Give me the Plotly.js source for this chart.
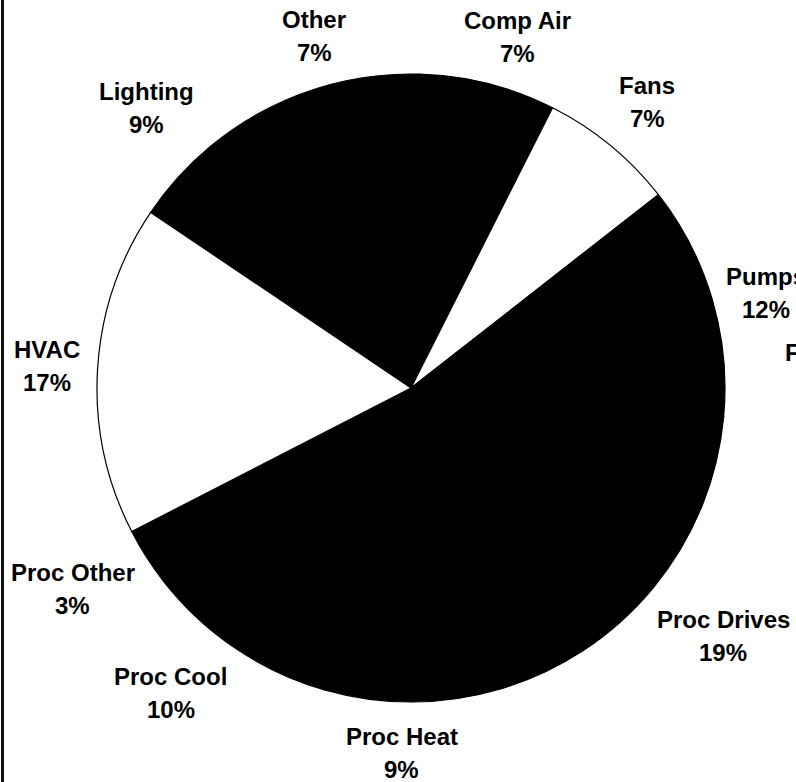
<!DOCTYPE html>
<html>
<head>
<meta charset="utf-8">
<script src="https://cdn.plot.ly/plotly-3.0.1.min.js"></script>
<style>
  html, body { margin: 0; padding: 0; background: #fff; }
  #chart { width: 796px; height: 782px; }
</style>
</head>
<body>
<div id="chart"></div>
<script>
// Energy end-use shares (%), clockwise starting from Lighting
const categories = ['Lighting', 'Other', 'Comp Air', 'Fans', 'Pumps',
                    'Proc Drives', 'Proc Heat', 'Proc Cool', 'Proc Other', 'HVAC'];
const shares = [9, 7, 7, 7, 12, 19, 9, 10, 3, 17];

// ---- layout / styling ----
const W = 796, H = 782;
const CX = 411, CY = 388, R = 314;      // pie centre and radius in pixels
const START_ANGLE = -56;                // first slice starts here (deg, clockwise from 12 o'clock)
const LABEL_RADIUS = 328;               // anchor circle for the data labels
const LINE_GAP = 33;                    // distance between the two label lines
const FONT_SIZE = 24;
const FONT_FAMILY = '"Liberation Sans", Arial, sans-serif';
const lightSlices = new Set(['Fans', 'HVAC']);
const colors = categories.map(c => lightSlices.has(c) ? '#ffffff' : '#000000');
const labelFont = { family: FONT_FAMILY, size: FONT_SIZE, weight: 'bold', color: '#000' };
// hand-placed label adjustments (px) where the automatic placement is crowded
const labelNudge = {
  'Lighting': [-7, 5], 'Other': [-22, 3], 'Proc Drives': [-8, 8],
  'Proc Heat': [-11, 4], 'HVAC': [-3, -3]
};

// text measurement for label placement
const ctx = document.createElement('canvas').getContext('2d');
ctx.font = 'bold ' + FONT_SIZE + 'px ' + FONT_FAMILY;
const clamp = (v, lo, hi) => Math.max(lo, Math.min(hi, v));

function textAt(text, px, py) {
  return {
    x: px / W, y: 1 - py / H, xref: 'paper', yref: 'paper',
    xanchor: 'center', yanchor: 'middle', showarrow: false,
    text: text, font: labelFont
  };
}

const total = shares.reduce((a, b) => a + b, 0);
let cum = 0;
const annotations = [];
categories.forEach((name, i) => {
  const mid = (START_ANGLE + (cum + shares[i] / 2) / total * 360) * Math.PI / 180;
  cum += shares[i];
  const pct = shares[i] + '%';
  const w = Math.max(ctx.measureText(name).width, ctx.measureText(pct).width);
  const h = 2 * LINE_GAP;
  const s = Math.sin(mid), c = Math.cos(mid);
  // anchor on a circle just outside the pie, label box pushed outward from it
  const ax = CX + LABEL_RADIUS * s, ay = CY - LABEL_RADIUS * c;
  const kx = clamp(s / 0.5, -1, 1);
  const ky = Math.sign(c) * clamp((Math.abs(c) - 0.25) / 0.4, 0, 1);
  const [nx, ny] = labelNudge[name] || [0, 0];
  const bx = ax + kx * w / 2 + nx;
  const by = ay - ky * h / 2 + ny;
  annotations.push(textAt(name, bx, by - LINE_GAP / 2));
  annotations.push(textAt(pct, bx, by + LINE_GAP / 2));
});

// partially visible label at the right edge
annotations.push({
  x: 783 / W, y: 1 - 352 / H, xref: 'paper', yref: 'paper',
  xanchor: 'left', yanchor: 'middle', showarrow: false, text: 'F', font: labelFont
});

const trace = {
  type: 'pie',
  labels: categories,
  values: shares,
  sort: false,
  direction: 'clockwise',
  rotation: START_ANGLE,
  textinfo: 'none',
  hoverinfo: 'skip',
  marker: { colors: colors, line: { color: '#000', width: 1.2 } },
  domain: {
    x: [(CX - R) / W, (CX + R) / W],
    y: [1 - (CY + R) / H, 1 - (CY - R) / H]
  }
};

const layout = {
  width: W, height: H,
  margin: { l: 0, r: 0, t: 0, b: 0 },
  paper_bgcolor: '#fff',
  showlegend: false,
  annotations: annotations,
  shapes: [{
    type: 'line', xref: 'paper', yref: 'paper',
    x0: 2.5 / W, x1: 2.5 / W, y0: 0, y1: 1,
    line: { color: '#111', width: 3 }
  }]
};

Plotly.newPlot('chart', [trace], layout, { staticPlot: true, displayModeBar: false });
</script>
</body>
</html>
